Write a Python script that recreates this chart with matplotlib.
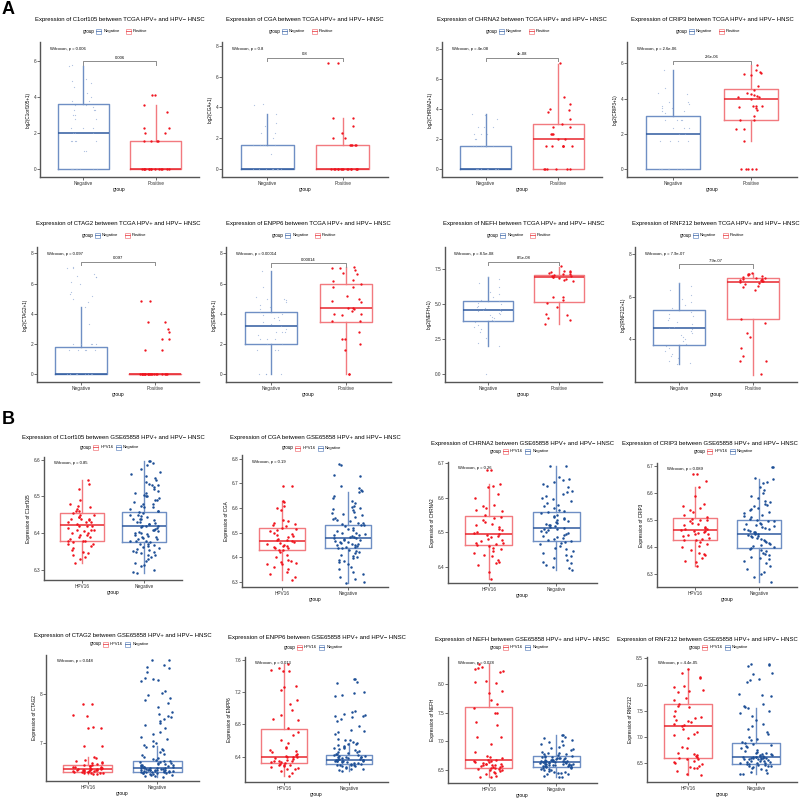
import math
import matplotlib
matplotlib.use("Agg")
import matplotlib.pyplot as plt
from matplotlib.patches import Rectangle
from matplotlib.lines import Line2D
from matplotlib.ticker import FixedLocator, FormatStrFormatter

plt.rcParams['font.family'] = ['Liberation Sans', 'DejaVu Sans']

W, H = 800, 798

BLUE_EDGE = "#6f8fc4"
BLUE_MED = "#2f5a9f"
BLUE_PT_A = "#8fa9d3"
BLUE_PT_B = "#1d4f96"
RED_EDGE = "#f27a7f"
RED_MED = "#e8262d"
RED_PT = "#f0141e"

# ---------------- Panel A (TCGA) : values ----------------
genes = ["C1orf105", "CGA", "CHRNA2", "CRIP3", "CTAG2", "ENPP6", "NEFH", "RNF212"]

a_pvals = ["0.006", "0.8", "4e-08", "2.6e-06", "0.097", "0.00014", "8.5e-08", "7.9e-07"]
a_bracket_y = [6.0, 7.2, 7.4, 6.13, 7.45, 7.34, 8.05, 7.52]

# box stats per group: q1, median, q3, lower whisker, upper whisker
a_box_neg = [
    [0, 2.0, 3.65, 0, 5.75],
    [0, 0, 1.58, 0, 3.58],
    [0, 0, 1.58, 0, 3.7],
    [0, 2.0, 3.0, 0, 5.6],
    [0, 0, 1.8, 0, 4.45],
    [2.0, 3.17, 4.09, 0, 6.85],
    [3.8, 4.62, 5.2, 2.0, 6.95],
    [3.75, 4.52, 5.37, 2.85, 6.63],
]
a_box_pos = [
    [0, 0, 1.58, 0, 3.58],
    [0, 0, 1.58, 0, 3.32],
    [0, 2.0, 3.0, 0, 7.0],
    [2.8, 4.0, 4.52, 1.58, 5.9],
    [0, 0, 0, 0, 0],
    [3.46, 4.4, 6.0, 0, 7.1],
    [5.15, 6.93, 7.1, 3.6, 7.7],
    [4.96, 6.7, 6.88, 2.33, 7.12],
]

a_c1orf105_neg = [0, 0, 0, 0, 0, 0, 0, 0, 1.0, 1.0, 1.58, 1.58, 1.58, 1.58, 1.58, 2.0, 2.0, 2.0,
                  2.32, 2.32, 2.32, 2.81, 2.81, 3.0, 3.0, 3.32, 3.32, 3.32, 3.46, 3.58, 3.58, 3.81,
                  3.81, 4.0, 4.25, 4.58, 4.81, 4.9, 5.0, 5.75, 5.78]
a_c1orf105_pos = [4.1, 4.1, 3.58, 3.17, 2.32, 2.32, 2.0, 2.0, 1.58, 1.58, 1.58, 1.58,
                  0, 0, 0, 0, 0, 0, 0, 0, 0, 0, 0, 0, 0, 0]
a_cga_neg = [4.17, 4.2, 3.58, 3.0, 2.81, 2.32, 2.32, 2.0, 1.58, 1.58, 1.58, 1.58, 1.58, 1.0,
             0, 0, 0, 0, 0, 0, 0, 0, 0, 0]
a_cga_pos = [6.91, 6.85, 3.32, 3.3, 2.81, 2.32, 2.0, 2.0, 1.58, 1.58, 1.58, 1.58, 1.58,
             0, 0, 0, 0, 0, 0, 0, 0, 0, 0, 0, 0, 0, 0, 0]
a_chrna2_neg = [3.7, 3.58, 3.32, 2.81, 2.81, 2.81, 2.32, 2.32, 2.32, 2.0, 2.0, 1.58, 1.58, 1.58,
                1.58, 1.58, 1.58, 0, 0, 0, 0, 0, 0, 0, 0, 0, 0]
a_chrna2_pos = [7.07, 4.81, 4.32, 4.0, 3.91, 3.81, 3.32, 3.0, 2.81, 2.81, 2.32, 2.32, 2.32, 2.0,
                2.0, 1.58, 1.58, 1.58, 1.58, 1.58, 1.58, 0, 0, 0, 0, 0, 0]
a_crip3_neg = [5.6, 4.58, 4.32, 4.25, 3.81, 3.81, 3.7, 3.58, 3.46, 3.46, 3.32, 3.32, 3.17, 2.81,
               2.81, 2.81, 2.81, 2.32, 2.32, 2.32, 2.0, 2.0, 1.58, 1.58, 1.58, 1.58,
               0, 0, 0, 0, 0, 0, 0, 0, 0, 0]
a_crip3_pos = [5.9, 5.6, 5.5, 5.45, 5.4, 5.35, 4.7, 4.5, 4.3, 4.25, 4.2, 4.15, 4.1, 4.1, 4.0,
               3.6, 3.6, 3.55, 3.5, 3.45, 3.35, 3.0, 2.8, 2.8, 2.3, 2.3, 1.58, 0, 0, 0, 0, 0]
a_ctag2_neg = [7.1, 7.05, 7.0, 6.6, 6.5, 6.45, 6.4, 6.1, 6.0, 5.45, 5.3, 5.2, 5.0, 4.75, 4.45,
               3.32, 2.0, 2.0, 2.0, 2.0, 2.0, 1.58, 1.58, 1.58, 1.58, 1.58,
               0, 0, 0, 0, 0, 0, 0, 0, 0, 0]
a_ctag2_pos = [4.81, 4.81, 3.46, 3.46, 3.0, 2.81, 2.32, 2.32, 1.58, 1.58,
               0, 0, 0, 0, 0, 0, 0, 0, 0, 0, 0, 0, 0, 0, 0, 0, 0, 0, 0, 0]
a_enpp6_neg = [6.85, 5.75, 5.1, 5.0, 5.0, 4.9, 4.8, 4.6, 4.45, 4.3, 4.1, 4.0, 3.91, 3.81, 3.7,
               3.58, 3.46, 3.32, 3.17, 3.0, 2.81, 2.81, 2.81, 2.58, 2.32, 2.32, 2.32, 2.0, 2.0,
               1.58, 1.58, 1.58, 0, 0, 0, 0]
a_enpp6_pos = [7.1, 7.05, 7.0, 6.9, 6.7, 6.6, 6.2, 6.15, 6.0, 5.8, 5.75, 5.2, 4.95, 4.85, 4.8,
               4.4, 4.35, 4.3, 4.15, 4.0, 3.95, 3.9, 3.5, 3.5, 2.8, 2.3, 2.3, 2.0, 1.58, 0, 0]
a_nefh_neg = [0, 2.0, 2.2, 2.6, 3.0, 3.2, 3.4, 3.5, 3.7, 3.8, 3.9, 4.0, 4.1, 4.2, 4.3, 4.4, 4.5,
              4.55, 4.6, 4.65, 4.7, 4.8, 4.9, 5.0, 5.1, 5.2, 5.3, 5.5, 5.7, 5.9, 6.2, 6.5, 6.8, 6.95]
a_nefh_pos = [7.72, 7.4, 7.35, 7.3, 7.28, 7.22, 7.18, 7.15, 7.1, 7.05, 7.02, 6.98, 6.95, 6.9,
              6.8, 6.75, 6.7, 5.55, 5.5, 5.3, 5.1, 4.8, 4.3, 4.25, 4.05, 3.85, 3.6]
a_rnf212_neg = [2.85, 2.9, 3.0, 3.1, 3.2, 3.3, 3.45, 3.6, 3.7, 3.8, 3.9, 4.0, 4.1, 4.2, 4.3,
                4.4, 4.5, 4.55, 4.6, 4.7, 4.8, 4.9, 5.0, 5.1, 5.2, 5.3, 5.45, 5.6, 5.75, 5.9,
                6.1, 6.3, 6.5, 6.63]
a_rnf212_pos = [7.12, 7.08, 7.05, 7.0, 6.97, 6.93, 6.9, 6.87, 6.85, 6.83, 6.8, 6.78, 6.75, 6.72,
                6.7, 6.65, 6.6, 6.5, 6.45, 6.3, 4.97, 4.75, 4.3, 4.1, 3.6, 3.2, 3.0, 3.0, 2.35]

a_neg = [a_c1orf105_neg, a_cga_neg, a_chrna2_neg, a_crip3_neg,
         a_ctag2_neg, a_enpp6_neg, a_nefh_neg, a_rnf212_neg]
a_pos = [a_c1orf105_pos, a_cga_pos, a_chrna2_pos, a_crip3_pos,
         a_ctag2_pos, a_enpp6_pos, a_nefh_pos, a_rnf212_pos]

a_ylims = [(-0.43, 7.07), (-0.5, 8.24), (-0.51, 8.46), (-0.44, 7.2),
           (-0.53, 8.42), (-0.53, 8.42), (-0.57, 9.1), (1.99, 8.34)]
a_ticks = [[0, 2, 4, 6], [0, 2, 4, 6, 8], [0, 2, 4, 6, 8], [0, 2, 4, 6],
           [0, 2, 4, 6, 8], [0, 2, 4, 6, 8], [0, 2.5, 5, 7.5], [4, 6, 8]]

# ---------------- Panel B (GSE65858) ----------------
b_pvals = ["0.85", "0.19", "0.26", "0.089", "0.048", "0.013", "0.028", "4.4e-05"]

b_box_hpv = [
    [6.378, 6.422, 6.455, 6.32, 6.545],
    [6.428, 6.466, 6.518, 6.305, 6.63],
    [6.462, 6.494, 6.546, 6.365, 6.64],
    [6.427, 6.463, 6.507, 6.33, 6.62],
    [6.40, 6.47, 6.54, 6.36, 6.70],
    [6.325, 6.40, 6.74, 6.16, 7.55],
    [6.54, 6.666, 7.6, 6.37, 8.35],
    [6.59, 7.2, 7.62, 6.27, 8.3],
]
b_box_neg = [
    [6.375, 6.419, 6.458, 6.293, 6.595],
    [6.436, 6.476, 6.532, 6.295, 6.665],
    [6.474, 6.512, 6.557, 6.39, 6.69],
    [6.398, 6.449, 6.50, 6.27, 6.65],
    [6.39, 6.49, 6.63, 6.30, 6.93],
    [6.31, 6.36, 6.42, 6.22, 6.57],
    [6.555, 6.64, 6.735, 6.37, 7.1],
    [6.49, 6.61, 6.89, 6.29, 7.55],
]

b_c1orf105_hpv = [6.545, 6.535, 6.52, 6.49, 6.48, 6.475, 6.47, 6.465, 6.46, 6.455, 6.45, 6.45,
                  6.445, 6.44, 6.44, 6.435, 6.43, 6.43, 6.425, 6.42, 6.42, 6.42, 6.415, 6.41,
                  6.41, 6.405, 6.40, 6.40, 6.395, 6.39, 6.39, 6.385, 6.38, 6.38, 6.378, 6.375,
                  6.37, 6.37, 6.365, 6.36, 6.355, 6.35, 6.345, 6.34, 6.335, 6.33, 6.32, 6.445,
                  6.43, 6.41, 6.395, 6.46, 6.44]
b_c1orf105_neg = [6.595, 6.595, 6.59, 6.585, 6.575, 6.565, 6.56, 6.555, 6.55, 6.545, 6.54, 6.535,
                  6.53, 6.53, 6.525, 6.52, 6.515, 6.51, 6.51, 6.505, 6.5, 6.5, 6.495, 6.49, 6.49,
                  6.485, 6.48, 6.48, 6.475, 6.47, 6.47, 6.465, 6.46, 6.46, 6.458, 6.455, 6.45,
                  6.45, 6.448, 6.445, 6.44, 6.44, 6.438, 6.435, 6.43, 6.43, 6.428, 6.425, 6.425,
                  6.42, 6.42, 6.419, 6.418, 6.415, 6.412, 6.41, 6.41, 6.405, 6.402, 6.4, 6.4,
                  6.398, 6.395, 6.392, 6.39, 6.39, 6.388, 6.385, 6.383, 6.38, 6.38, 6.378, 6.375,
                  6.372, 6.37, 6.368, 6.365, 6.362, 6.36, 6.358, 6.355, 6.352, 6.35, 6.348, 6.345,
                  6.342, 6.34, 6.335, 6.33, 6.325, 6.32, 6.315, 6.31, 6.3, 6.295, 6.293]
b_cga_hpv = [6.69, 6.69, 6.63, 6.625, 6.61, 6.6, 6.59, 6.55, 6.545, 6.54, 6.535, 6.53, 6.525,
             6.52, 6.515, 6.51, 6.505, 6.5, 6.495, 6.49, 6.485, 6.48, 6.475, 6.47, 6.468, 6.465,
             6.46, 6.458, 6.455, 6.45, 6.447, 6.445, 6.44, 6.438, 6.435, 6.43, 6.428, 6.42,
             6.41, 6.4, 6.39, 6.385, 6.38, 6.375, 6.37, 6.37, 6.36, 6.35, 6.34, 6.33, 6.32, 6.305]
b_cga_neg = [6.78, 6.775, 6.735, 6.73, 6.69, 6.68, 6.675, 6.67, 6.665, 6.65, 6.64, 6.63, 6.62,
             6.61, 6.605, 6.6, 6.595, 6.59, 6.585, 6.58, 6.575, 6.57, 6.565, 6.56, 6.555, 6.55,
             6.545, 6.54, 6.538, 6.535, 6.532, 6.53, 6.525, 6.52, 6.515, 6.51, 6.505, 6.5, 6.5,
             6.495, 6.49, 6.488, 6.485, 6.482, 6.48, 6.478, 6.476, 6.474, 6.47, 6.468, 6.465,
             6.462, 6.46, 6.458, 6.455, 6.452, 6.45, 6.448, 6.445, 6.442, 6.44, 6.438, 6.436,
             6.43, 6.425, 6.42, 6.415, 6.41, 6.405, 6.4, 6.395, 6.39, 6.385, 6.38, 6.37, 6.36,
             6.35, 6.34, 6.33, 6.32, 6.31, 6.3, 6.295]
b_chrna2_hpv = [6.68, 6.68, 6.64, 6.635, 6.63, 6.61, 6.6, 6.58, 6.575, 6.57, 6.565, 6.56, 6.55,
                6.545, 6.54, 6.535, 6.53, 6.525, 6.52, 6.515, 6.51, 6.505, 6.5, 6.498, 6.495,
                6.492, 6.49, 6.485, 6.48, 6.478, 6.475, 6.47, 6.468, 6.465, 6.462, 6.46, 6.455,
                6.45, 6.445, 6.44, 6.435, 6.43, 6.42, 6.415, 6.41, 6.405, 6.385, 6.365]
b_chrna2_neg = [6.69, 6.69, 6.66, 6.655, 6.65, 6.645, 6.64, 6.635, 6.63, 6.62, 6.615, 6.61, 6.605,
                6.6, 6.595, 6.59, 6.585, 6.58, 6.575, 6.57, 6.565, 6.56, 6.558, 6.555, 6.55, 6.548,
                6.545, 6.54, 6.538, 6.535, 6.532, 6.53, 6.528, 6.525, 6.522, 6.52, 6.518, 6.515,
                6.512, 6.51, 6.508, 6.505, 6.502, 6.5, 6.498, 6.495, 6.492, 6.49, 6.487, 6.484,
                6.48, 6.478, 6.475, 6.472, 6.47, 6.465, 6.46, 6.455, 6.45, 6.445, 6.44, 6.435,
                6.43, 6.425, 6.42, 6.415, 6.41, 6.405, 6.4, 6.395, 6.39]
b_crip3_hpv = [6.67, 6.668, 6.645, 6.62, 6.59, 6.56, 6.55, 6.545, 6.535, 6.53, 6.52, 6.51, 6.505,
               6.5, 6.5, 6.495, 6.49, 6.485, 6.48, 6.475, 6.47, 6.468, 6.465, 6.463, 6.46, 6.458,
               6.455, 6.452, 6.45, 6.447, 6.445, 6.44, 6.435, 6.43, 6.428, 6.425, 6.42, 6.41,
               6.405, 6.4, 6.39, 6.38, 6.375, 6.37, 6.36, 6.35, 6.345, 6.33]
b_crip3_neg = [6.695, 6.695, 6.655, 6.65, 6.64, 6.635, 6.62, 6.61, 6.6, 6.59, 6.58, 6.57, 6.565,
               6.56, 6.555, 6.55, 6.545, 6.54, 6.535, 6.53, 6.525, 6.52, 6.515, 6.51, 6.505, 6.5,
               6.498, 6.495, 6.49, 6.487, 6.484, 6.48, 6.477, 6.474, 6.47, 6.468, 6.465, 6.462,
               6.46, 6.457, 6.455, 6.452, 6.45, 6.448, 6.445, 6.442, 6.44, 6.437, 6.434, 6.43,
               6.427, 6.424, 6.42, 6.416, 6.412, 6.408, 6.404, 6.4, 6.397, 6.393, 6.39, 6.385,
               6.38, 6.375, 6.37, 6.365, 6.36, 6.355, 6.35, 6.34, 6.33, 6.32, 6.31, 6.3, 6.29, 6.27]
b_ctag2_hpv = [7.78, 7.78, 7.56, 7.55, 7.31, 7.3, 7.3, 6.93, 6.93, 6.7, 6.68, 6.65, 6.62, 6.6,
               6.59, 6.58, 6.56, 6.55, 6.54, 6.53, 6.52, 6.51, 6.5, 6.5, 6.49, 6.48, 6.48, 6.47,
               6.47, 6.46, 6.46, 6.45, 6.45, 6.44, 6.44, 6.43, 6.43, 6.42, 6.42, 6.41, 6.41, 6.4,
               6.4, 6.39, 6.39, 6.38, 6.38, 6.37, 6.37, 6.36, 6.36]
b_ctag2_neg = [8.69, 8.68, 8.58, 8.55, 8.52, 8.45, 8.33, 8.3, 8.28, 8.25, 8.05, 8.02, 7.98, 7.92,
               7.88, 7.8, 7.72, 7.62, 7.58, 7.55, 7.52, 7.48, 7.44, 7.4, 7.36, 7.3, 7.22, 7.18,
               7.12, 7.08, 7.03, 7.0, 6.96, 6.93, 6.9, 6.87, 6.84, 6.8, 6.77, 6.74, 6.71, 6.68,
               6.66, 6.64, 6.63, 6.62, 6.61, 6.6, 6.59, 6.58, 6.57, 6.56, 6.55, 6.54, 6.53, 6.52,
               6.51, 6.5, 6.5, 6.49, 6.49, 6.48, 6.48, 6.47, 6.47, 6.46, 6.46, 6.45, 6.45, 6.44,
               6.44, 6.43, 6.43, 6.42, 6.42, 6.41, 6.41, 6.4, 6.4, 6.39, 6.39, 6.38, 6.38, 6.37,
               6.37, 6.36, 6.35, 6.34, 6.33, 6.32, 6.31, 6.3, 6.55, 6.52, 6.48, 6.45, 6.42, 6.4]
b_enpp6_hpv = [7.55, 7.5, 7.48, 7.47, 7.46, 7.28, 7.26, 7.23, 7.1, 7.05, 6.98, 6.92, 6.87, 6.86,
               6.75, 6.7, 6.67, 6.6, 6.57, 6.52, 6.5, 6.48, 6.47, 6.45, 6.43, 6.42, 6.41, 6.4,
               6.4, 6.39, 6.38, 6.37, 6.36, 6.35, 6.35, 6.34, 6.33, 6.33, 6.32, 6.31, 6.3, 6.3,
               6.29, 6.28, 6.27, 6.26, 6.25, 6.24, 6.22, 6.2, 6.16]
b_enpp6_neg = [7.37, 7.36, 7.33, 7.32, 7.2, 7.19, 7.16, 7.15, 6.97, 6.96, 6.93, 6.92, 6.91, 6.9,
               6.89, 6.87, 6.84, 6.78, 6.73, 6.72, 6.7, 6.68, 6.62, 6.61, 6.6, 6.58, 6.57, 6.56,
               6.55, 6.54, 6.53, 6.52, 6.51, 6.5, 6.49, 6.48, 6.47, 6.46, 6.45, 6.44, 6.43, 6.43,
               6.42, 6.42, 6.41, 6.41, 6.4, 6.4, 6.39, 6.39, 6.38, 6.38, 6.37, 6.37, 6.37, 6.36,
               6.36, 6.36, 6.35, 6.35, 6.35, 6.34, 6.34, 6.34, 6.33, 6.33, 6.32, 6.32, 6.31, 6.31,
               6.3, 6.3, 6.29, 6.29, 6.28, 6.28, 6.27, 6.26, 6.25, 6.24, 6.23, 6.22]
b_nefh_hpv = [8.35, 8.3, 8.27, 8.26, 8.23, 8.2, 8.05, 8.03, 8.02, 7.87, 7.85, 7.72, 7.65, 7.58,
              7.5, 7.49, 7.33, 7.28, 7.08, 7.08, 6.95, 6.82, 6.75, 6.72, 6.7, 6.68, 6.67, 6.66,
              6.65, 6.64, 6.63, 6.62, 6.61, 6.6, 6.6, 6.59, 6.58, 6.58, 6.57, 6.56, 6.55, 6.55,
              6.54, 6.53, 6.52, 6.51, 6.5, 6.49, 6.48, 6.46, 6.44, 6.42, 6.4, 6.38, 6.37]
b_nefh_neg = [7.1, 7.1, 7.08, 7.05, 7.02, 7.0, 6.98, 6.95, 6.93, 6.9, 6.88, 6.86, 6.84, 6.82, 6.8,
              6.79, 6.78, 6.77, 6.76, 6.75, 6.74, 6.73, 6.72, 6.72, 6.71, 6.7, 6.7, 6.69, 6.69,
              6.68, 6.68, 6.67, 6.67, 6.66, 6.66, 6.65, 6.65, 6.64, 6.64, 6.64, 6.63, 6.63, 6.62,
              6.62, 6.61, 6.61, 6.6, 6.6, 6.59, 6.59, 6.58, 6.58, 6.57, 6.57, 6.56, 6.56, 6.55,
              6.55, 6.54, 6.53, 6.52, 6.51, 6.5, 6.49, 6.48, 6.47, 6.46, 6.45, 6.44, 6.43, 6.42,
              6.4, 6.38, 6.37, 6.6, 6.62, 6.65, 6.68, 6.7, 6.58, 6.55, 6.63]
b_rnf212_hpv = [8.3, 8.22, 8.12, 8.15, 7.98, 7.95, 7.9, 7.87, 7.85, 7.75, 7.7, 7.62, 7.6, 7.58,
                7.5, 7.4, 7.38, 7.36, 7.33, 7.3, 7.28, 7.25, 7.22, 7.2, 7.15, 7.1, 7.05, 7.04,
                6.98, 6.8, 6.78, 6.7, 6.68, 6.66, 6.64, 6.62, 6.6, 6.58, 6.57, 6.55, 6.52, 6.5,
                6.48, 6.45, 6.42, 6.4, 6.4, 6.35, 6.3, 6.27]
b_rnf212_neg = [8.4, 8.4, 8.38, 8.35, 8.22, 8.2, 8.1, 8.08, 8.05, 7.82, 7.8, 7.78, 7.62, 7.6,
                7.58, 7.55, 7.5, 7.45, 7.4, 7.32, 7.25, 7.2, 7.15, 7.1, 7.05, 7.0, 6.97, 6.94,
                6.9, 6.88, 6.86, 6.84, 6.82, 6.8, 6.78, 6.76, 6.74, 6.72, 6.7, 6.69, 6.68, 6.67,
                6.66, 6.65, 6.64, 6.63, 6.62, 6.62, 6.61, 6.61, 6.6, 6.6, 6.59, 6.59, 6.58, 6.58,
                6.57, 6.56, 6.55, 6.54, 6.53, 6.52, 6.51, 6.5, 6.49, 6.48, 6.47, 6.46, 6.45, 6.44,
                6.42, 6.4, 6.38, 6.36, 6.34, 6.32, 6.3, 6.29, 6.6, 6.62, 6.58, 6.55, 6.5, 6.45]

b_hpv = [b_c1orf105_hpv, b_cga_hpv, b_chrna2_hpv, b_crip3_hpv,
         b_ctag2_hpv, b_enpp6_hpv, b_nefh_hpv, b_rnf212_hpv]
b_neg = [b_c1orf105_neg, b_cga_neg, b_chrna2_neg, b_crip3_neg,
         b_ctag2_neg, b_enpp6_neg, b_nefh_neg, b_rnf212_neg]

b_ylims = [(6.273, 6.607), (6.278, 6.816), (6.353, 6.703), (6.253, 6.71),
           (6.215, 8.79), (6.083, 7.638), (6.27, 8.47), (6.14, 8.527)]
b_ticks = [[6.3, 6.4, 6.5, 6.6], [6.3, 6.4, 6.5, 6.6, 6.7, 6.8], [6.4, 6.5, 6.6, 6.7],
           [6.3, 6.4, 6.5, 6.6, 6.7], [7, 8], [6.4, 6.8, 7.2, 7.6],
           [6.5, 7.0, 7.5, 8.0], [6.5, 7.0, 7.5, 8.0, 8.5]]

# ---------------- layout in pixels: (left, top, right, bottom), title y, legend y
a_axes_px = [(40, 42, 199, 177), (222, 42, 388, 177), (442, 42, 602, 177), (627, 42, 797, 177),
             (37, 247, 199, 382), (226, 247, 391, 382), (445, 247, 602, 382), (635, 247, 797, 382)]
a_head_px = [(19, 31)] * 4 + [(224, 235)] * 4
b_axes_px = [(44, 457, 182, 580), (242, 455, 388, 587), (448, 462, 597, 583), (657, 463, 797, 587),
             (46, 655, 199, 781), (245, 657, 388, 782), (448, 657, 597, 783), (647, 657, 797, 782)]
b_head_px = [(438, 447), (438, 448), (443, 451), (443, 451),
             (636, 644), (638, 647), (639, 647), (639, 647)]

fig = plt.figure(figsize=(W / 100, H / 100), dpi=100)


def fx(x):
    return x / W


def fy(y):
    return 1 - y / H


def draw_title(cx, y, text):
    # keep the right-most titles inside the canvas
    half = len(text) * 1.5
    if cx + half > W - 2:
        fig.text(fx(W - 2), fy(y), text, fontsize=4.3, ha="right", va="center")
    else:
        fig.text(fx(cx), fy(y), text, fontsize=4.3, ha="center", va="center")


def draw_legend(cx, y, labels, edges, meds):
    widths = [len(s) * 2.35 for s in labels]
    total = 13 + sum(7 + w + 4 for w in widths)
    x = cx - total / 2
    fig.text(fx(x), fy(y), "group", fontsize=3.3, va="center", ha="left")
    x += 13
    for lab, w, ec, mc in zip(labels, widths, edges, meds):
        fig.add_artist(Rectangle((fx(x), fy(y + 2.5)), 5 / W, 5 / H, transform=fig.transFigure,
                                 facecolor="white", edgecolor=ec, linewidth=0.5))
        fig.add_artist(Line2D([fx(x), fx(x + 5)], [fy(y), fy(y)], transform=fig.transFigure,
                              color=mc, linewidth=0.5))
        fig.text(fx(x + 7), fy(y), lab, fontsize=3.0, va="center", ha="left")
        x += 7 + w + 4


def jitter(vals, pos, width):
    # deterministic scatter of x positions (layout only, values untouched)
    out = []
    for i in range(len(vals)):
        h = math.sin(i * 12.9898 + pos * 78.233 + len(vals) * 0.37) * 43758.5453
        out.append(pos + ((h - math.floor(h)) - 0.5) * 2 * width)
    return out


def draw_box(ax, stats, pos, edge, med):
    q1, m, q3, lo, hi = stats
    ax.bxp([{"q1": q1, "med": m, "q3": q3, "whislo": lo, "whishi": hi, "fliers": []}],
           positions=[pos], widths=0.7, showcaps=False, showfliers=False,
           boxprops=dict(color=edge, linewidth=1.0),
           whiskerprops=dict(color=edge, linewidth=1.0),
           medianprops=dict(color=med, linewidth=1.1), manage_ticks=False)


def style_axes(ax, ylim, ticks, fmt, xlabels, ylabel):
    ax.set_xlim(0.4, 2.6)
    ax.set_ylim(*ylim)
    ax.yaxis.set_major_locator(FixedLocator(ticks))
    ax.yaxis.set_major_formatter(FormatStrFormatter(fmt))
    ax.set_xticks([1, 2])
    ax.set_xticklabels(xlabels)
    for s in ["top", "right"]:
        ax.spines[s].set_visible(False)
    for s in ["left", "bottom"]:
        ax.spines[s].set_color("#555555")
        ax.spines[s].set_linewidth(1.0)
    ax.tick_params(length=2, width=0.5, labelsize=3.4, pad=0.8, colors="#333333")
    ax.set_xlabel("group", fontsize=3.5, labelpad=0.8)
    ax.set_ylabel(ylabel, fontsize=3.3, labelpad=2)


# ---- panel A
for i, g in enumerate(genes):
    l, t, r, b = a_axes_px[i]
    ax = fig.add_axes([fx(l), fy(b), (r - l) / W, (b - t) / H])
    draw_box(ax, a_box_neg[i], 1, BLUE_EDGE, BLUE_MED)
    draw_box(ax, a_box_pos[i], 2, RED_EDGE, RED_MED)
    ax.scatter(jitter(a_neg[i], 1, 0.2), a_neg[i], s=0.8, color=BLUE_PT_A, alpha=0.7,
               linewidths=0, zorder=3)
    ax.scatter(jitter(a_pos[i], 2, 0.2), a_pos[i], s=2.8, color=RED_PT, linewidths=0, zorder=3)
    fmt = "%.1f" if g == "NEFH" else "%d"
    style_axes(ax, a_ylims[i], a_ticks[i], fmt, ["Negative", "Positive"], "log2(%s+1)" % g)
    # comparison bracket
    span = a_ylims[i][1] - a_ylims[i][0]
    by = a_bracket_y[i]
    tick = span * 0.025
    ax.plot([1, 1, 2, 2], [by - tick, by, by, by - tick], color="#8c8c8c", linewidth=0.7)
    ax.text(1.5, by + span * 0.012, a_pvals[i], fontsize=3.0, ha="center", va="bottom")
    ax.text(0.06, 0.95, "Wilcoxon, p = " + a_pvals[i], transform=ax.transAxes,
            fontsize=3.0, ha="left", va="center")
    ty, ly = a_head_px[i]
    cx = (l + r) / 2
    draw_title(cx, ty, "Expression of %s between TCGA HPV+ and HPV\u2212 HNSC" % g)
    draw_legend(cx, ly, ["Negative", "Positive"], [BLUE_EDGE, RED_EDGE], [BLUE_MED, RED_MED])

# ---- panel B
for i, g in enumerate(genes):
    l, t, r, b = b_axes_px[i]
    ax = fig.add_axes([fx(l), fy(b), (r - l) / W, (b - t) / H])
    draw_box(ax, b_box_hpv[i], 1, RED_EDGE, RED_MED)
    draw_box(ax, b_box_neg[i], 2, BLUE_EDGE, BLUE_MED)
    ax.scatter(jitter(b_hpv[i], 1, 0.22), b_hpv[i], s=3.2, color=RED_PT, linewidths=0, zorder=3)
    ax.scatter(jitter(b_neg[i], 2, 0.25), b_neg[i], s=3.2, color=BLUE_PT_B, linewidths=0,
               zorder=3)
    fmt = "%d" if g == "CTAG2" else "%.1f"
    style_axes(ax, b_ylims[i], b_ticks[i], fmt, ["HPV16", "Negative"], "Expression of %s" % g)
    ax.text(0.07, 0.95, "Wilcoxon, p = " + b_pvals[i], transform=ax.transAxes,
            fontsize=3.0, ha="left", va="center")
    ty, ly = b_head_px[i]
    cx = (l + r) / 2
    draw_title(cx, ty, "Expression of %s between GSE65858 HPV+ and HPV\u2212 HNSC" % g)
    draw_legend(cx, ly, ["HPV16", "Negative"], [RED_EDGE, BLUE_EDGE], [RED_MED, BLUE_MED])

fig.text(fx(2), fy(9), "A", fontsize=13, fontweight="bold", ha="left", va="center")
fig.text(fx(2), fy(420), "B", fontsize=13, fontweight="bold", ha="left", va="center")

fig.savefig("out.png", dpi=100)
plt.close(fig)
